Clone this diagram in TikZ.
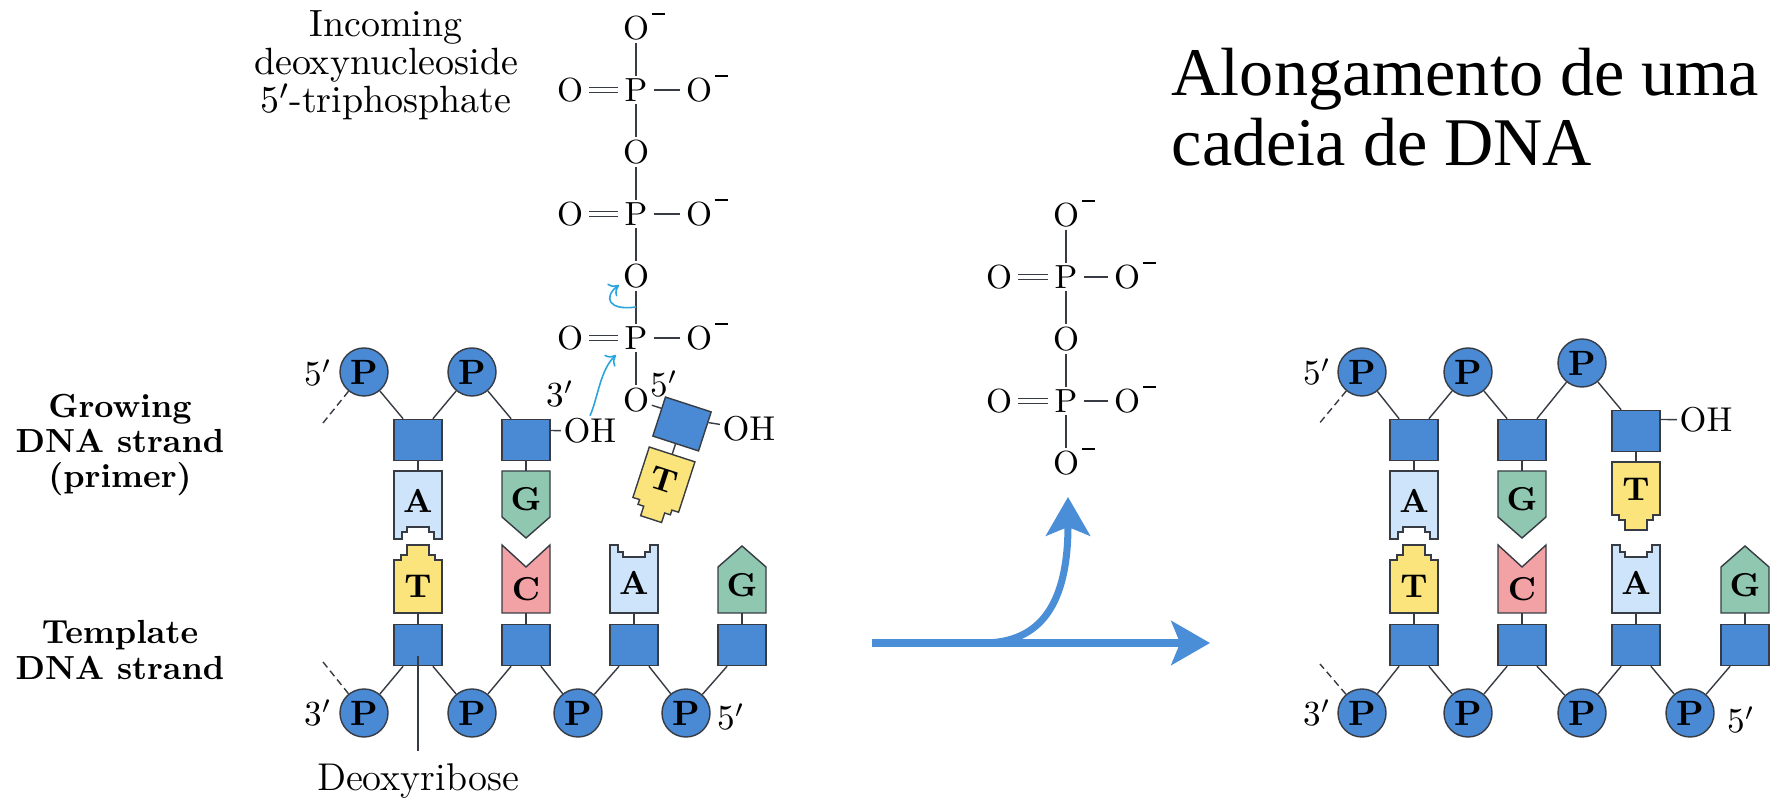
\documentclass[tikz,border=0pt]{standalone}
\usepackage{fontspec}
\usepackage{tikz}
\usetikzlibrary{arrows.meta,calc}

\newfontfamily\titlefont{Liberation Serif}
\newcommand{\chg}{\rlap{\smash{\kern0.8pt\raisebox{7pt}{\rule{3.8pt}{0.4pt}}}}}

\definecolor{dnablue}{RGB}{74,137,212}
\definecolor{outl}{RGB}{55,60,68}
\definecolor{adecol}{RGB}{205,228,250}
\definecolor{guacol}{RGB}{143,199,177}
\definecolor{thycol}{RGB}{251,228,124}
\definecolor{cytcol}{RGB}{242,161,164}
\definecolor{arrblue}{RGB}{74,142,216}
\definecolor{attack}{RGB}{42,164,220}

\begin{document}
\begin{tikzpicture}[x=0.01cm, y=-0.01cm, line width=0.4pt,
  phos/.style={circle, draw=outl, fill=dnablue, minimum size=0.48cm, inner sep=0pt, font=\fontsize{10}{11}\selectfont\bfseries},
  sugar/.style={rectangle, draw=outl, fill=dnablue, minimum width=0.48cm, minimum height=0.41cm, inner sep=0pt},
  link/.style={draw=outl},
  basebox/.style={draw=outl, line join=miter},
  letter/.style={inner sep=0pt, font=\fontsize{9.4}{10}\selectfont\bfseries},
  atom/.style={inner sep=0.6pt, font=\fontsize{9.5}{11}\selectfont},
  hbond/.style={draw=outl, shorten <=1pt, shorten >=1pt},
  dbond/.style={hbond, double=white, double distance=1pt},
  prime/.style={inner sep=0pt, font=\fontsize{10}{11}\selectfont},
  inclbl/.style={anchor=base, inner sep=0pt, font=\fontsize{10.8}{11}\selectfont},
  strandlbl/.style={align=center, font=\fontsize{9.5}{10}\selectfont\bfseries},
  attackarrow/.style={draw=attack, line width=0.45pt, -{To[length=2.6pt,width=4.5pt]}},
  bigarrow/.style={draw=arrblue, line width=2pt, -{Stealth[length=11pt,width=12.5pt,inset=2.5pt]}},
  baseA/.pic={
    \draw[basebox, fill=adecol] (-24,0) -- (24,0) -- (24,68) -- (16,68) -- (16,61) -- (11,61) -- (11,56)
      -- (-11,56) -- (-11,61) -- (-16,61) -- (-16,68) -- (-24,68) -- cycle;
    \node[letter] (-l) at (0,30) {A};
    \coordinate (-top) at (0,0);
  },
  baseT/.pic={
    \draw[basebox, fill=thycol] (-24,0) -- (24,0) -- (24,53) -- (17,53) -- (17,58) -- (11,58) -- (11,68)
      -- (-11,68) -- (-11,58) -- (-17,58) -- (-17,53) -- (-24,53) -- cycle;
    \node[letter] (-l) at (0,27) {T};
    \coordinate (-top) at (0,0);
  },
  baseG/.pic={
    \draw[basebox, fill=guacol] (-24,0) -- (24,0) -- (24,46) -- (0,67) -- (-24,46) -- cycle;
    \node[letter] (-l) at (0,28) {G};
    \coordinate (-top) at (0,0);
  },
  baseC/.pic={
    \draw[basebox, fill=cytcol] (-24,0) -- (24,0) -- (24,68) -- (0,46) -- (-24,68) -- cycle;
    \node[letter] (-l) at (0,24) {C};
    \coordinate (-top) at (0,0);
  }]
  \useasboundingbox (0,0) rectangle (1779,804);
  \fill[white] (0,0) rectangle (1779,804);

  % labels
  \node[anchor=base west, inner sep=0pt, font=\titlefont\fontsize{19.4}{20}\selectfont] (title1) at (1171,96) {Alongamento de uma};
  \node[anchor=base west, inner sep=0pt, font=\titlefont\fontsize{19.4}{20}\selectfont] (title2) at (1171,166) {cadeia de DNA};
  \node[inclbl] (inc1) at (386,37) {Incoming};
  \node[inclbl] (inc2) at (386,75) {deoxynucleoside};
  \node[inclbl] (inc3) at (386,113) {5$'$-triphosphate};
  \node[strandlbl] (grow) at (120,445) {Growing\\DNA strand\\(primer)};
  \node[strandlbl] (tmpl) at (120,650) {Template\\DNA strand};

  % incoming triphosphate
  \node[atom] (gO1) at (636,28) {O\chg};
  \node[atom] (gP) at (636,90) {P};
  \node[atom] (gO2) at (570,90) {O};
  \node[atom] (gO3) at (699,90) {O\chg};
  \node[atom] (gbO) at (636,152) {O};
  \node[atom] (bP) at (636,214) {P};
  \node[atom] (bO2) at (570,214) {O};
  \node[atom] (bO3) at (699,214) {O\chg};
  \node[atom] (baO) at (636,276) {O};
  \node[atom] (aP) at (636,338) {P};
  \node[atom] (aO2) at (570,338) {O};
  \node[atom] (aO3) at (699,338) {O\chg};
  \node[atom] (aO5) at (636,400) {O};
  \node[prime] (fiveIn) at (664,384) {5$'$};
  \draw[outl] (gO1) -- (gP) -- (gbO) -- (bP) -- (baO) -- (aP) -- (aO5);
  \draw[dbond] (gO2) -- (gP);
  \draw[hbond] (gP) -- (gO3);
  \draw[dbond] (bO2) -- (bP);
  \draw[hbond] (bP) -- (bO3);
  \draw[dbond] (aO2) -- (aP);
  \draw[hbond] (aP) -- (aO3);

  \begin{scope}[shift={(682,424)}, rotate=-18, transform shape]
    \node[sugar] (sIn) at (0,0) {};
    \pic (bIn) at (0,32) {baseT};
  \end{scope}
  \draw[link] (sIn) -- (bIn-top);
  \draw[link] (aO5) -- (sIn.161);
  \node[atom, font=\fontsize{9.8}{11}\selectfont] (ohIn) at (749,429) {OH};
  \draw[link] (sIn.21) -- (ohIn);

  % growing strand (primer)
  \node[phos] (pA1) at (364,372) {P};
  \node[phos] (pA2) at (472,372) {P};
  \node[sugar] (sA1) at (418,440) {};
  \node[sugar] (sA2) at (526,440) {};
  \pic (bA1) at (418,471) {baseA};
  \pic (bA2) at (526,471) {baseG};
  \draw[link] (pA1) -- (sA1.125);
  \draw[link] (sA1.55) -- (pA2);
  \draw[link] (pA2) -- (sA2.125);
  \draw[link] (sA1) -- (bA1-top);
  \draw[link] (sA2) -- (bA2-top);
  \coordinate (dA1) at (323,423);
  \draw[link, dash pattern=on 2pt off 1.2pt] (pA1) -- (dA1);
  \node[prime] (fiveA) at (318,373) {5$'$};
  \node[prime] (threeA) at (560,394) {3$'$};
  \node[atom, font=\fontsize{9.8}{11}\selectfont] (ohA) at (590,431) {OH};
  \draw[link] (sA2.21) -- (ohA);

  % attack of the 3'-OH
  \coordinate (hitP) at (616,355);
  \coordinate (hitO) at (619,285);
  \draw[attackarrow] (ohA.north) .. controls (598,398) and (600,370) .. (hitP);
  \draw[attackarrow] ($(baO)!0.5!(aP)$) .. controls (608,311) and (603,297) .. (hitO);

  % template strand
  \node[sugar] (tA1) at (418,645) {};
  \node[sugar] (tA2) at (526,645) {};
  \node[sugar] (tA3) at (634,645) {};
  \node[sugar] (tA4) at (742,645) {};
  \pic[yscale=-1] (cA1) at (418,613) {baseT};
  \pic[yscale=-1] (cA2) at (526,613) {baseC};
  \pic[yscale=-1] (cA3) at (634,613) {baseA};
  \pic[yscale=-1] (cA4) at (742,613) {baseG};
  \draw[link] (tA1) -- (cA1-top);
  \draw[link] (tA2) -- (cA2-top);
  \draw[link] (tA3) -- (cA3-top);
  \draw[link] (tA4) -- (cA4-top);
  \node[phos] (qA1) at (364,713) {P};
  \node[phos] (qA2) at (472,713) {P};
  \node[phos] (qA3) at (578,713) {P};
  \node[phos] (qA4) at (686,713) {P};
  \draw[link] (tA1.235) -- (qA1);
  \draw[link] (tA1.305) -- (qA2);
  \draw[link] (tA2.235) -- (qA2);
  \draw[link] (tA2.305) -- (qA3);
  \draw[link] (tA3.235) -- (qA3);
  \draw[link] (tA3.305) -- (qA4);
  \draw[link] (tA4.235) -- (qA4);
  \coordinate (dA2) at (323,662);
  \draw[link, dash pattern=on 2pt off 1.2pt] (qA1) -- (dA2);
  \node[prime] (threeA2) at (318,713) {3$'$};
  \node[prime] (fiveA2) at (731,717) {5$'$};
  \node[font=\fontsize{11}{12}\selectfont] (deoxy) at (418,781) {Deoxyribose};
  \draw[link] ($(tA1.center)!0.5!(tA1.south)$) -- (deoxy.north);

  % pyrophosphate released
  \node[atom] (qO1) at (1066,215) {O\chg};
  \node[atom] (qP1) at (1066,277) {P};
  \node[atom] (qO2) at (999,277) {O};
  \node[atom] (qO3) at (1127,277) {O\chg};
  \node[atom] (qOb) at (1066,339) {O};
  \node[atom] (qP2) at (1066,401) {P};
  \node[atom] (qO4) at (999,401) {O};
  \node[atom] (qO5) at (1127,401) {O\chg};
  \node[atom] (qO6) at (1066,463) {O\chg};
  \draw[outl] (qO1) -- (qP1) -- (qOb) -- (qP2) -- (qO6);
  \draw[dbond] (qO2) -- (qP1);
  \draw[hbond] (qP1) -- (qO3);
  \draw[dbond] (qO4) -- (qP2);
  \draw[hbond] (qP2) -- (qO5);

  % reaction arrows
  \coordinate (rxA) at (872,643);
  \coordinate (rxB) at (1210,643);
  \coordinate (fork) at (983,643);
  \coordinate (ppiEnd) at (1068,497);
  \draw[bigarrow] (rxA) -- (rxB);
  \draw[bigarrow] (fork) .. controls (1040,643) and (1068,605) .. (ppiEnd);

  % elongated strand
  \node[phos] (pB1) at (1362,372) {P};
  \node[phos] (pB2) at (1468,372) {P};
  \node[phos] (pB3) at (1582,363) {P};
  \node[sugar] (sB1) at (1414,440) {};
  \node[sugar] (sB2) at (1522,440) {};
  \node[sugar] (sB3) at (1636,431) {};
  \pic (bB1) at (1414,471) {baseA};
  \pic (bB2) at (1522,471) {baseG};
  \pic (bB3) at (1636,462) {baseT};
  \draw[link] (pB1) -- (sB1.125);
  \draw[link] (sB1.55) -- (pB2);
  \draw[link] (pB2) -- (sB2.125);
  \draw[link] (sB2.55) -- (pB3);
  \draw[link] (pB3) -- (sB3.125);
  \draw[link] (sB1) -- (bB1-top);
  \draw[link] (sB2) -- (bB2-top);
  \draw[link] (sB3) -- (bB3-top);
  \coordinate (dB1) at (1318,425);
  \draw[link, dash pattern=on 2pt off 1.2pt] (pB1) -- (dB1);
  \node[prime] (fiveB) at (1317,372) {5$'$};
  \node[atom, font=\fontsize{9.8}{11}\selectfont] (ohB) at (1706,420) {OH};
  \draw[link] (sB3.25) -- (ohB);

  \node[sugar] (tB1) at (1414,645) {};
  \node[sugar] (tB2) at (1522,645) {};
  \node[sugar] (tB3) at (1636,645) {};
  \node[sugar] (tB4) at (1745,645) {};
  \pic[yscale=-1] (cB1) at (1414,613) {baseT};
  \pic[yscale=-1] (cB2) at (1522,613) {baseC};
  \pic[yscale=-1] (cB3) at (1636,613) {baseA};
  \pic[yscale=-1] (cB4) at (1745,613) {baseG};
  \draw[link] (tB1) -- (cB1-top);
  \draw[link] (tB2) -- (cB2-top);
  \draw[link] (tB3) -- (cB3-top);
  \draw[link] (tB4) -- (cB4-top);
  \node[phos] (qB1) at (1362,713) {P};
  \node[phos] (qB2) at (1468,713) {P};
  \node[phos] (qB3) at (1582,713) {P};
  \node[phos] (qB4) at (1690,713) {P};
  \draw[link] (tB1.235) -- (qB1);
  \draw[link] (tB1.305) -- (qB2);
  \draw[link] (tB2.235) -- (qB2);
  \draw[link] (tB2.305) -- (qB3);
  \draw[link] (tB3.235) -- (qB3);
  \draw[link] (tB3.305) -- (qB4);
  \draw[link] (tB4.235) -- (qB4);
  \coordinate (dB2) at (1320,664);
  \draw[link, dash pattern=on 2pt off 1.2pt] (qB1) -- (dB2);
  \node[prime] (threeB) at (1317,713) {3$'$};
  \node[prime] (fiveB2) at (1741,720) {5$'$};
\end{tikzpicture}
\end{document}
